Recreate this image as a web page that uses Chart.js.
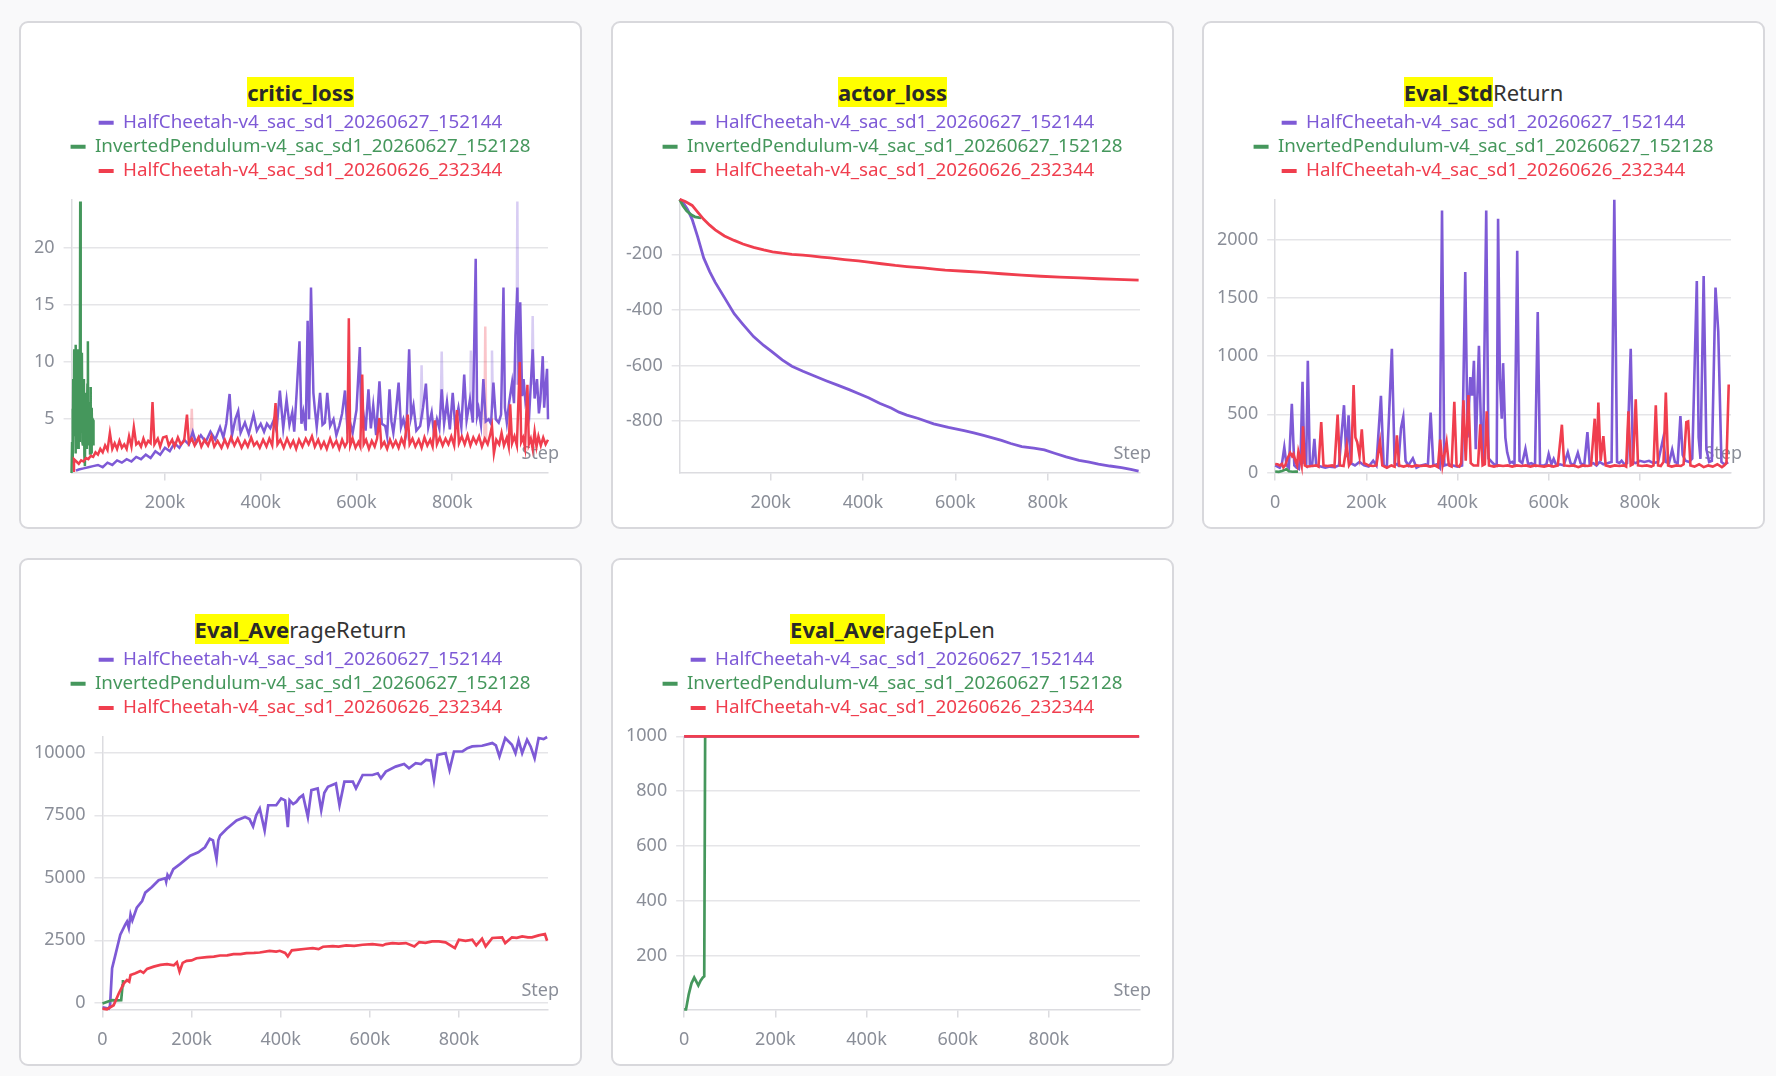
<!DOCTYPE html>
<html>
<head>
<meta charset="utf-8">
<script src="https://cdn.jsdelivr.net/npm/chart.js@4.4.1/dist/chart.umd.min.js"></script>
<style>
body { margin: 0; background: #f9f9fa; font-family: "Noto Sans", sans-serif; }
.card { position: absolute; width: 563px; height: 508px; box-sizing: border-box; border: 2px solid #d8d8dc; border-radius: 9px; background: #fff; }
.title { position: absolute; left: 0; right: 0; top: 55px; text-align: center; font-size: 22px; line-height: 28px; color: #333; }
.title mark { background: #ffff00; color: #2a2a2a; font-weight: bold; }
.plot { position: absolute; left: 4px; top: 85px; width: 553px; height: 418px; }
</style>
</head>
<body>
<div class="card" style="left:19px;top:21px"><div class="title"><mark>critic_loss</mark></div><div class="plot"><canvas id="critic"></canvas></div></div>
<div class="card" style="left:611px;top:21px"><div class="title"><mark>actor_loss</mark></div><div class="plot"><canvas id="actor"></canvas></div></div>
<div class="card" style="left:1202px;top:21px"><div class="title"><mark>Eval_Std</mark>Return</div><div class="plot"><canvas id="stdReturn"></canvas></div></div>
<div class="card" style="left:19px;top:558px"><div class="title"><mark>Eval_Ave</mark>rageReturn</div><div class="plot"><canvas id="avgReturn"></canvas></div></div>
<div class="card" style="left:611px;top:558px"><div class="title"><mark>Eval_Ave</mark>rageEpLen</div><div class="plot"><canvas id="epLen"></canvas></div></div>

<script>
const runNames = ['HalfCheetah-v4_sac_sd1_20260627_152144', 'InvertedPendulum-v4_sac_sd1_20260627_152128', 'HalfCheetah-v4_sac_sd1_20260626_232344'];
const runColors = ['#7e5ad6', '#45975c', '#f03e4e'];
const runFaint = ['rgba(126,90,214,0.3)', 'rgba(69,151,92,0.3)', 'rgba(240,62,78,0.3)'];

// steps are in thousands
const criticPurpleStepK = [14,20,30,40,50,60,70,80,90,100,
  110,120,130,140,150,160,170,180,190,200,
  210,220,230,240,250,258,265,275,285,295,
  305,315,322,328,335,340,347,353,358,367,
  375,385,392,400,407,413,420,427,433,440,
  447,454,460,466,470,475,481,485,489,494,
  498,501,505,510,513,517,524,529,534,539,
  545,552,558,564,570,576,581,586,592,600,
  607,610,614,619,625,630,635,641,648,653,
  660,664,669,673,677,682,688,693,698,704,
  710,714,719,725,733,739,745,750,757,762,
  768,773,778,783,789,795,801,806,813,819,
  825,830,837,843,849,852,855,860,865,870,
  876,881,886,891,897,902,907,910,914,919,
  925,929,932,936,939,942,946,949,953,956,
  961,968,972,977,981,984,989,992,994,998,
  1000];
const criticPurple = [0.5,0.6,0.7,0.8,0.9,1.0,0.8,1.2,1.0,1.4,
  1.2,1.5,1.3,1.7,1.5,1.9,1.6,2.2,1.9,2.5,
  2.2,2.9,2.5,3.2,2.8,3.9,2.9,3.6,3.0,3.9,
  3.2,4.3,3.4,4.6,7.2,3.6,5.0,5.7,3.8,4.7,
  3.7,5.4,4.0,4.6,3.9,4.6,4.2,4.9,4.0,7.5,
  4.2,6.7,4.5,5.6,3.9,7.3,11.8,4.6,5.6,4.0,
  13.6,5.0,16.5,7.3,5.9,4.3,7.3,4.5,4.7,7.3,
  4.4,5.0,3.6,4.4,5.5,7.5,4.2,4.8,3.8,5.8,
  11.3,4.5,5.6,4.0,7.6,4.2,6.2,3.6,8.3,4.6,
  4.4,3.5,7.6,4.8,3.8,5.5,8.2,4.3,5.0,3.9,
  11.1,5.2,6.2,4.0,4.4,6.0,8.1,4.3,5.6,3.7,
  5.0,4.2,7.6,4.6,6.5,4.1,7.3,4.5,6.0,4.3,
  8.9,4.9,6.7,4.7,19.0,5.3,5.9,4.5,8.5,4.8,
  5.0,4.6,8.2,5.0,4.7,5.4,16.5,6.0,4.7,6.5,
  8.2,6.4,12.3,16.5,8.0,15.2,7.0,8.5,6.5,7.0,
  5.6,11.1,6.8,8.5,5.5,6.6,10.5,6.0,7.3,9.4,
  5.0];
const criticGreenStepK = [4.9,6,7,7.8,8.4,9.5,10.5,11.5,12.5,13.2,
  13.9,15,16,16.7,17.4,18.5,19.5,20.2,20.9,22,
  23,23.7,24.4,25.5,26.5,27.5,28.6,29.5,30.7,31.7,
  32.8,33.8,34.9,35.9,36.9,38,39,39.7,40.4,41.5,
  42.5,43.5,44.6,45.3,46,47,48.1,49,50.2,50.8];
const criticGreen = [0.3,3.0,5.9,1.5,8.5,4.0,11.1,3.5,7.3,2.0,
  11.5,5.0,4.4,9.0,11.1,2.5,3.3,7.0,8.5,3.0,
  24.0,5.0,3.8,8.0,10.8,3.0,2.7,6.0,8.5,1.8,
  0.9,5.0,7.3,2.5,4.4,8.0,11.8,3.0,2.7,6.5,
  5.9,2.0,7.8,3.5,2.1,6.0,3.3,5.0,4.9,2.7];
const criticRedStepK = [8,10,15,20,25,30,35,40,45,50,
  55,60,65,70,75,80,85,90,95,100,
  105,110,115,120,125,130,135,140,145,150,
  155,160,165,170,174,178,185,190,196,203,
  208,215,220,227,233,240,246,250,256,262,
  270,276,283,290,297,303,310,318,325,331,
  338,345,352,360,367,373,380,386,392,398,
  405,412,418,424,431,435,441,448,455,462,
  468,474,480,487,494,500,507,513,520,526,
  532,538,545,551,558,564,570,576,581,584,
  587,592,598,604,608,612,615,620,626,632,
  638,643,648,652,658,664,670,676,682,688,
  694,700,707,711,717,723,730,736,742,748,
  754,759,764,768,774,780,786,792,798,804,
  810,814,820,826,832,838,844,850,856,862,
  868,874,879,883,887,892,898,903,908,914,
  918,921,925,930,935,941,944,948,952,957,
  960,964,968,972,976,980,985,990,995,1000];
const criticRed = [0.5,1.5,1.3,1.1,1.4,1.3,1.6,1.5,1.8,1.7,
  2.1,1.9,2.4,2.1,2.7,2.3,3.8,2.4,2.9,2.4,
  3.1,2.5,2.8,2.4,3.5,2.6,4.3,2.8,3.0,2.6,
  3.3,2.7,3.1,2.9,6.5,2.8,3.3,2.6,3.4,3.5,
  2.7,3.2,2.6,3.4,2.8,3.1,5.4,2.9,3.3,2.7,
  3.4,2.6,3.2,2.7,3.5,2.6,3.1,2.5,3.2,2.6,
  3.4,2.7,3.3,2.5,3.1,2.6,3.4,2.7,3.0,2.5,
  3.2,2.6,3.3,2.7,6.4,2.8,3.2,2.5,3.3,2.6,
  3.1,2.4,3.2,2.6,3.3,2.8,3.5,2.6,3.2,2.5,
  3.0,2.4,3.3,2.6,3.1,2.4,3.2,2.6,3.0,13.8,
  2.7,3.3,2.5,3.0,2.6,8.9,2.8,3.2,2.4,3.1,
  2.6,3.3,5.1,2.6,3.0,2.4,3.2,2.6,3.1,2.5,
  3.3,2.7,5.4,2.8,3.3,2.6,3.2,2.5,3.4,2.7,
  3.2,2.6,4.9,2.8,3.4,2.7,3.3,2.8,3.5,2.7,
  5.8,2.9,3.5,2.8,3.6,2.7,3.4,2.9,3.5,2.6,
  3.3,2.8,3.6,4.4,2.0,3.2,2.8,3.8,2.7,3.4,
  2.6,6.3,2.9,3.5,2.7,10.0,3.0,3.4,2.5,8.0,
  2.8,3.3,2.4,3.9,2.6,3.5,2.7,3.4,2.8,3.2];
// faint raw spikes behind the smoothed critic curves (null breaks the line)
const criticPurpleRawStepK = [351,353,355,357, 734,736,738,740, 776,778,780,782, 837,839,841,843, 881,883,885,887, 934,936,938,940, 966,968,970];
const criticPurpleRaw = [4,5.4,4,null, 5,9.7,5,null, 6,10.9,6,null, 6,11,6,null, 6,11,6,null, 8,24,8,null, 8,14,8];
const criticRedRawStepK = [254,256,258,260, 867,869,871];
const criticRedRaw = [3,5.9,3,null, 3,13.1,3];

const actorPurpleStepK = [3,10,20,30,42,55,68,80,100,121,
  140,163,185,204,225,246,270,295,320,345,
  370,390,412,437,461,478,495,520,553,585,
  619,640,661,700,720,744,770,793,815,840,
  868,890,910,935,960,980,997];
const actorPurple = [-2,-12,-38,-74,-137,-213,-262,-301,-356,-414,
  -452,-496,-528,-552,-580,-603,-621,-638,-655,-671,
  -687,-701,-716,-737,-753,-768,-779,-791,-810,-823,
  -835,-843,-852,-870,-881,-892,-898,-904,-916,-929,
  -942,-948,-955,-962,-968,-974,-980];
const actorGreenStepK = [3,10,18,28,36,45,50];
const actorGreen = [-3,-25,-43,-58,-65,-68,-69];
const actorRedStepK = [3,15,30,42,55,68,80,100,121,140,
  163,185,204,225,246,270,287,310,329,360,
  390,412,440,470,495,530,560,578,620,661,
  700,744,785,826,870,910,950,997];
const actorRed = [-2,-10,-24,-48,-74,-95,-112,-134,-150,-163,
  -175,-184,-191,-196,-200,-203,-206,-210,-213,-219,
  -224,-228,-234,-240,-244,-249,-254,-257,-261,-265,
  -270,-275,-279,-282,-285,-288,-290,-293];

const stdPurpleStepK = [0,5,10,15,20,25,30,36.5,42,47,
  52,56,60,64,68,71.6,76,81,86,90,
  100,110,120,130,140,151,156,161,166,175,
  185,195,205,215,222,232,238,245,256,262,
  270,276,281,286,292,302,310,320,330,335,
  341,347,355,361,366,371,380,390,400,410,
  417,422,428,432,436,440,447,452,456,463,
  468,475,480,486,489,493,497,500,505,509,
  515,520,525,531,536,542,549,555,562,570,
  576,581,590,595,600,606,611,617,625,633,
  642,648,655,664,670,678,685,690,698,705,
  712,720,730,738,744,750,755,760,766,772,
  780,785,791,800,810,820,830,840,851,857,
  864,871,877,883,889,894,900,908,915,925,
  929,933,940,946,952,958,966,972,979,985,
  990,994];
const stdPurple = [60,50,40,80,217,60,40,590,60,40,
  30,180,780,80,60,960,70,60,289,60,
  50,40,50,45,60,578,130,491,80,60,
  90,60,50,100,60,659,60,50,1063,80,
  60,380,477,100,60,121,40,60,70,60,
  514,60,70,40,2254,60,70,60,50,60,
  1725,300,820,660,960,200,1090,300,100,2254,
  120,90,70,60,2182,800,462,940,300,173,
  80,90,70,1907,100,80,202,70,80,60,
  1381,60,60,70,159,70,116,60,70,60,
  173,80,60,168,80,60,347,70,80,60,
  90,70,80,90,2347,90,80,101,70,80,
  1063,90,80,100,90,100,80,90,289,90,
  80,197,90,80,485,150,100,90,120,1647,
  300,116,1690,200,90,100,1590,1214,90,70,
  80,87];
const stdGreenStepK = [0,8,15,20,25,30,38,45,50];
const stdGreen = [8,5,12,20,29,10,6,8,7];
const stdRedStepK = [0,5,10,15,18,22,27,33,37,40,
  45,48,51,55,58,61,65,70,80,90,
  95,101,106,115,125,130,137,142,150,157,
  162,167,172,176,180,185,190,195,205,215,
  222,230,235,245,255,262,267,272,282,290,
  300,310,320,330,340,350,357,362,367,376,
  381,387,393,398,404,408,413,418,424,429,
  435,445,450,455,460,464,469,480,490,500,
  510,520,530,540,550,560,570,580,590,600,
  610,620,629,634,645,655,665,675,685,693,
  701,705,709,714,720,725,735,745,755,765,
  770,775,780,785,791,796,805,815,825,830,
  835,840,846,852,857,862,870,880,890,896,
  902,906,911,920,930,940,950,960,970,980,
  985,990,995];
const stdRed = [72,70,60,72,43,60,120,168,140,159,
  90,60,180,116,60,396,60,50,55,60,
  50,433,60,55,60,50,497,60,55,231,
  60,90,751,300,260,140,370,80,60,55,
  60,266,60,40,60,50,318,60,50,60,
  50,60,55,60,50,60,45,283,60,260,
  60,50,607,60,50,80,621,100,665,80,
  60,60,413,60,70,526,60,50,60,55,
  60,50,60,55,60,50,60,55,50,60,
  50,60,410,60,55,60,45,60,55,60,
  462,60,601,100,312,60,50,60,55,60,
  50,526,60,70,630,60,55,60,50,60,
  578,60,55,90,688,60,50,60,55,70,
  433,439,60,50,70,45,60,50,70,45,
  60,80,757];

const avgPurpleStepK = [0,14,17,21.6,29,40,51,55,59,63,
  67,77,89,96,111,126,141,143,146,150,
  159,174,197,215,230,241,248,256,260,264,
  279,301,320,330,338,345,353,364,372,390,
  401,410,416,420,428,435,442,450,461,469,
  483,491,498,506,524,532,543,562,569,584,
  606,618,625,636,658,677,688,703,715,726,
  737,744,752,770,779,789,808,819,830,852,
  875,883,891,904,919,927,934,942,953,961,
  970,979,990,998];
const avgPurple = [-180,-230,-100,1384,1922,2728,3132,3250,3000,3535,
  3300,3804,4072,4408,4637,4906,4986,4850,5120,5000,
  5349,5551,5887,6021,6223,6559,6500,5752,6500,6693,
  6962,7298,7432,7350,7056,7500,7768,6895,7903,7903,
  8171,8100,7029,8104,7950,8037,8200,8306,7432,8507,
  8575,7701,8400,8642,8776,7903,8844,8844,8575,9112,
  9112,9180,8978,9247,9448,9556,9381,9583,9550,9717,
  9690,8911,9919,9986,9314,10053,10053,10188,10255,10282,
  10389,10300,9852,10591,10322,9986,10497,9986,10524,10255,
  9784,10591,10550,10631];
const avgGreenStepK = [0,14,21.6,30,42,45,46];
const avgGreen = [-27,67,107,100,110,700,914];
const avgRedStepK = [0,10,25,36.5,48,55,60,63,74,85,
  92,100,115,130,145,160,167,173,180,189,
  200,211,234,250,264,280,294,310,323,340,
  353,375,390,398,410,416,425,435,457,472,
  485,495,517,530,547,565,584,606,629,636,
  651,665,681,700,711,725,740,755,770,791,
  800,815,830,839,852,860,875,897,904,919,
  930,942,955,964,979,993,998];
const avgRed = [-228,-255,-94,376,780,914,850,1115,1183,1277,
  1200,1357,1451,1519,1546,1500,1626,1250,1600,1680,
  1700,1787,1828,1850,1895,1900,1949,1950,1989,2000,
  2016,2083,2050,2083,2000,1855,2100,2123,2164,2190,
  2150,2244,2271,2250,2298,2280,2325,2352,2298,2352,
  2392,2370,2392,2258,2433,2400,2460,2460,2420,2190,
  2527,2480,2527,2298,2567,2258,2594,2621,2392,2621,
  2600,2661,2620,2621,2701,2755,2486];

const epLenPurpleStepK = [0,250,500,750,998];
const epLenPurple = [1000,1000,1000,1000,1000];
const epLenGreenStepK = [0,4,10,16,22,27,31,36,41,44,46];
const epLenGreen = [5,5,60,100,121,105,92,110,121,125,1000];
const epLenRedStepK = [0,250,500,750,998];
const epLenRed = [1000,1000,1000,1000,1000];

const xTicksTrain = [200000, 400000, 600000, 800000];
const xTicksEval = [0, 200000, 400000, 600000, 800000];

Chart.defaults.font.family = '"Noto Sans", sans-serif';
const tickColor = '#8a8e98';
const gridColor = '#e5e5e8';
const axisColor = '#dcdce0';

// more room under the legend, and keep it centred on the card
const legendFix = {
    id: 'legendFix',
    beforeLayout(chart) {
        const lg = chart.legend;
        if (lg && !lg._trimmed) {
            const fit = lg.fit;
            lg.fit = function () { fit.call(this); this.height += 9; };
            lg._trimmed = true;
        }
    },
    afterLayout(chart) {
        chart.legend.left = 0;
        chart.legend.right = 551;
    }
};

const stepLabel = {
    id: 'stepLabel',
    beforeDatasetsDraw(chart) {
        const { ctx, chartArea } = chart;
        ctx.save();
        ctx.font = '18px "Noto Sans"';
        ctx.fillStyle = tickColor;
        ctx.textAlign = 'right';
        ctx.textBaseline = 'middle';
        ctx.fillText('Step', chartArea.right + 11, chartArea.bottom - 19);
        ctx.restore();
    }
};

function serie(run, stepsK, vals, width) {
    return {
        label: runNames[run],
        data: stepsK.map((k, i) => ({ x: k * 1000, y: vals[i] })),
        borderColor: runColors[run],
        backgroundColor: runColors[run],
        borderWidth: width,
        pointRadius: 0,
        tension: 0,
        clip: 4,
        order: 2 - run
    };
}

function rawSerie(run, stepsK, vals, width) {
    const ds = serie(run, stepsK, vals, width);
    ds.borderColor = runFaint[run];
    ds.raw = true;
    ds.spanGaps = false;
    ds.order = 5;
    return ds;
}

function lineChart(id, datasets, xMin, xTicks, yMin, yMax, yTicks) {
    return new Chart(document.getElementById(id), {
        type: 'line',
        data: { datasets: datasets },
        options: {
            responsive: true,
            maintainAspectRatio: false,
            animation: false,
            layout: { padding: { right: 30 } },
            plugins: {
                legend: {
                    position: 'top',
                    onClick: null,
                    labels: {
                        font: { size: 18.8 },
                        boxWidth: 15,
                        boxHeight: 4,
                        padding: 5.3,
                        generateLabels: chart => chart.data.datasets
                            .map((ds, i) => ({
                                text: ds.label,
                                fillStyle: ds.borderColor,
                                strokeStyle: ds.borderColor,
                                fontColor: ds.borderColor,
                                lineWidth: 0,
                                hidden: false,
                                datasetIndex: i,
                                raw: ds.raw
                            }))
                            .filter(item => !item.raw)
                    }
                },
                tooltip: { enabled: false }
            },
            scales: {
                x: {
                    type: 'linear',
                    min: xMin,
                    max: 1000000,
                    afterBuildTicks: sc => { sc.ticks = xTicks.map(v => ({ value: v })); },
                    ticks: {
                        color: tickColor, font: { size: 18 }, padding: 12, maxRotation: 0, autoSkip: false,
                        callback: v => v === 0 ? '0' : (v / 1000) + 'k'
                    },
                    grid: { drawOnChartArea: false, drawTicks: true, tickLength: 8, color: axisColor, lineWidth: 1.5 },
                    border: { color: axisColor, width: 1.5 }
                },
                y: {
                    min: yMin,
                    max: yMax,
                    afterBuildTicks: sc => { sc.ticks = yTicks.map(v => ({ value: v })); },
                    ticks: { color: tickColor, font: { size: 18 }, padding: 9, autoSkip: false, callback: v => String(v) },
                    grid: { color: gridColor, lineWidth: 1.5, tickLength: 8 },
                    border: { color: axisColor, width: 1.5 }
                }
            }
        },
        plugins: [legendFix, stepLabel]
    });
}

lineChart('critic', [
    serie(0, criticPurpleStepK, criticPurple, 2.5),
    serie(1, criticGreenStepK, criticGreen, 2.5),
    serie(2, criticRedStepK, criticRed, 2.5),
    rawSerie(0, criticPurpleRawStepK, criticPurpleRaw, 2.5),
    rawSerie(2, criticRedRawStepK, criticRedRaw, 2.5)
], 5000, xTicksTrain, 0.35, 24.2, [5, 10, 15, 20]);

lineChart('actor', [
    serie(0, actorPurpleStepK, actorPurple, 2.8),
    serie(1, actorGreenStepK, actorGreen, 2.8),
    serie(2, actorRedStepK, actorRed, 2.8)
], 3000, xTicksTrain, -985, -2, [-800, -600, -400, -200]);

lineChart('stdReturn', [
    serie(0, stdPurpleStepK, stdPurple, 2.6),
    serie(1, stdGreenStepK, stdGreen, 2.6),
    serie(2, stdRedStepK, stdRed, 2.6)
], 0, xTicksEval, 0, 2350, [0, 500, 1000, 1500, 2000]);

lineChart('avgReturn', [
    serie(0, avgPurpleStepK, avgPurple, 2.7),
    serie(1, avgGreenStepK, avgGreen, 2.7),
    serie(2, avgRedStepK, avgRed, 2.7)
], 0, xTicksEval, -260, 10660, [0, 2500, 5000, 7500, 10000]);

lineChart('epLen', [
    serie(0, epLenPurpleStepK, epLenPurple, 2.7),
    serie(1, epLenGreenStepK, epLenGreen, 2.7),
    serie(2, epLenRedStepK, epLenRed, 2.7)
], 0, xTicksEval, 5, 1000, [200, 400, 600, 800, 1000]);
</script>
</body>
</html>
